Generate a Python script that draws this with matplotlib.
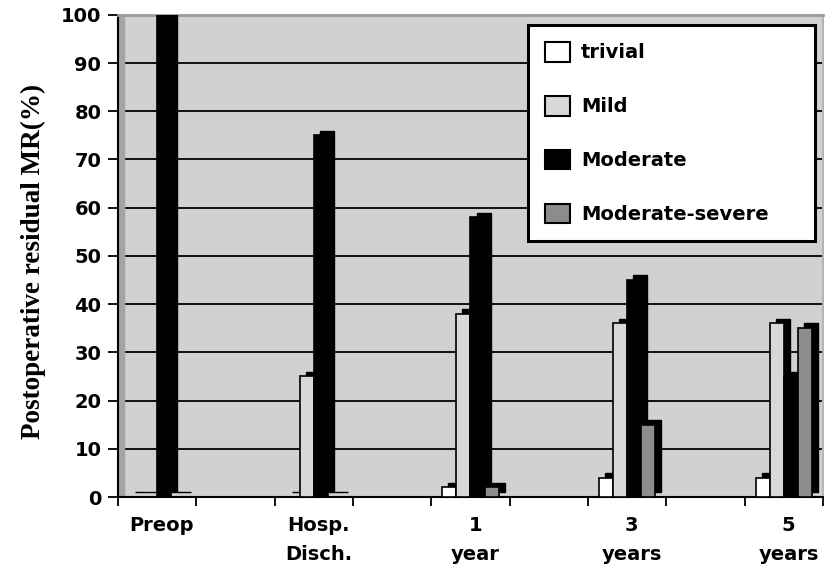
import numpy as np
import matplotlib.pyplot as plt
from matplotlib.patches import Patch

# Residual MR grade (% of patients) at each time point
periods = ['Preop', 'Hosp.\nDisch.', '1\nyear', '3\nyears', '5\nyears']
trivial = [0, 0, 2, 4, 4]
mild = [0, 25, 38, 36, 36]
moderate = [100, 75, 58, 45, 25]
mod_severe = [0, 0, 2, 15, 35]

series = [('trivial', trivial, 'white'),
          ('Mild', mild, '#d8d8d8'),
          ('Moderate', moderate, 'black'),
          ('Moderate-severe', mod_severe, '#8c8c8c')]

plt.rcParams['font.family'] = 'DejaVu Sans'
plt.rcParams['font.weight'] = 'bold'

fig = plt.figure(figsize=(8.35, 5.7), dpi=100)
ax = fig.add_axes([0.1413, 0.128, 0.8443, 0.846])
ax.set_facecolor('#d0d1d3')

# each period takes two slots (the sheet had spacer columns between them)
slots = np.arange(len(periods)) * 2
bar_w = 0.18
dx, dy = 0.077, 1.0  # fake 3D depth of the excel columns

for j, (name, vals, col) in enumerate(series):
    x = slots + 0.14 + j * bar_w
    # back box gives the dark side + top of the column
    ax.bar(x + dx, vals, bar_w, bottom=dy, align='edge', color='black',
           edgecolor='black', lw=1, zorder=2 + 2 * j)
    ax.bar(x, vals, bar_w, align='edge', color=col, edgecolor='black',
           lw=1.2, zorder=3 + 2 * j)

# back wall: gridlines and the left side wall
yt = np.arange(0, 101, 10)
ax.hlines(yt[1:-1], 0, 9, color='black', lw=1.3, zorder=0.6)
ax.axvspan(0, 0.08, color='#a4a4a4', zorder=1)

ax.set_xlim(0, 9)
ax.set_ylim(0, 100)
ax.set_yticks(yt)
ax.set_xticks(np.arange(10), labels=[''] * 10)
ax.set_xticks(slots + 0.56, labels=periods, minor=True)
for lab in ax.get_xticklabels(minor=True):
    lab.set_linespacing(1.68)

ax.tick_params(axis='y', direction='out', length=7, width=1.3, pad=5, labelsize=14)
ax.tick_params(axis='x', which='major', direction='out', length=6.5, width=1.3)
ax.tick_params(axis='x', which='minor', length=0, pad=13.5, labelsize=14)

for side in ['left', 'bottom']:
    ax.spines[side].set_linewidth(1.5)
ax.spines['top'].set_color('#9a9a9a')
ax.spines['top'].set_linewidth(2)
ax.spines['right'].set_color('#b5b5b5')
ax.spines['right'].set_linewidth(1.5)

ax.set_ylabel('Postoperative residual MR(%)', family='Liberation Serif',
              weight='bold', fontsize=19.5, va='center')
ax.yaxis.set_label_coords(-0.1206, 0.488)

handles = [Patch(facecolor=c, edgecolor='black', lw=1.5, label=n) for n, _, c in series]
leg = ax.legend(handles=handles, loc='upper left',
                bbox_to_anchor=(0.5816, 0.539, 0.407, 0.44), mode='expand',
                borderaxespad=0, fontsize=14, fancybox=False, edgecolor='black',
                framealpha=1, handlelength=1.29, handleheight=1.19,
                handletextpad=0.57, labelspacing=1.72, borderpad=0.87)
leg.get_frame().set_linewidth(2.2)

plt.savefig('out.png', dpi=100)
